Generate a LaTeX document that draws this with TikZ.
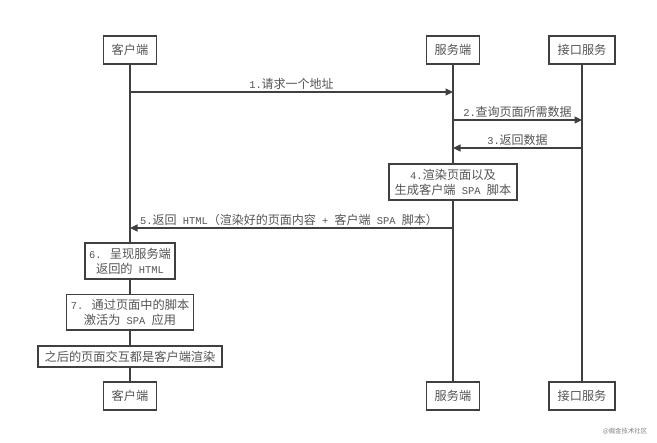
\documentclass[tikz,border=0pt]{standalone}
\usepackage{fontspec}
\setmainfont{Noto Sans CJK SC}
\newfontfamily\ltnfont{Liberation Mono}
\newcommand{\ltn}[1]{{\ltnfont\fontsize{10.4}{14}\selectfont #1}}
\usetikzlibrary{arrows.meta}
\pgfdeclarelayer{behind}
\pgfsetlayers{behind,main}
\definecolor{ln}{HTML}{404040}
\definecolor{tx}{HTML}{555555}
\tikzset{
  x=1pt,y=-1pt,
  actorbox/.style={draw=ln,line width=1.5pt,fill=white,text=tx,minimum height=28pt,inner sep=0pt,anchor=center,font=\fontsize{12.2}{15}\selectfont},
  notebox/.style={draw=ln,line width=1.5pt,fill=white,text=tx,inner sep=0pt,anchor=center,align=center,font=\fontsize{12.2}{15}\selectfont},
  lifeline/.style={draw=ln,line width=1.5pt},
  msg/.style={draw=ln,line width=1.2pt,-{Triangle[length=7.5pt,width=7pt]}},
  msglabel/.style={text=tx,inner sep=0pt,font=\fontsize{12}{14}\selectfont}
}
\begin{document}
\begin{tikzpicture}
\useasboundingbox (0,0) rectangle (657,443);
% actor boxes
\node[actorbox,minimum width=53pt] (c1) at (130,50) {客户端};
\node[actorbox,minimum width=53pt] (s1) at (453,50) {服务端};
\node[actorbox,minimum width=66pt] (a1) at (582,50) {接口服务};
\node[actorbox,minimum width=53pt] (c2) at (130,396) {客户端};
\node[actorbox,minimum width=53pt] (s2) at (453,396) {服务端};
\node[actorbox,minimum width=66pt] (a2) at (582,396) {接口服务};
% page background and lifelines, behind every box
\begin{pgfonlayer}{behind}
\fill[white] (0,0) rectangle (657,443);
\draw[lifeline] (c1) -- (c2);
\draw[lifeline] (s1) -- (s2);
\draw[lifeline] (a1) -- (a2);
\end{pgfonlayer}
% message anchors
\coordinate (m1a) at (130,92);
\coordinate (m1b) at (453,92);
\coordinate (m2a) at (453,120);
\coordinate (m2b) at (582,120);
\coordinate (m3a) at (582,148);
\coordinate (m3b) at (453,148);
\coordinate (m5a) at (453,228);
\coordinate (m5b) at (130,228);
\draw[msg] (m1a) -- (m1b);
\draw[msg] (m2a) -- (m2b);
\draw[msg] (m3a) -- (m3b);
\draw[msg] (m5a) -- (m5b);
\node[msglabel,anchor=center] (l1) at (291.5,84) {\ltn{1.}请求一个地址};
\node[msglabel,anchor=center] (l2) at (517.5,112) {\ltn{2.}查询页面所需数据};
\node[msglabel,anchor=center] (l3) at (517.5,140) {\ltn{3.}返回数据};
\node[msglabel,anchor=west] (l5) at (140,219.5) {\ltn{5.}返回\ltn{ HTML}（渲染好的页面内容\ltn{ + }客户端\ltn{ SPA }脚本）};
% notes
\node[notebox,minimum width=128pt,minimum height=36pt] (n4) at (453,182) {\ltn{4.}渲染页面以及\\生成客户端\ltn{ SPA }脚本};
\node[notebox,minimum width=90pt,minimum height=36pt] (n6) at (130,261) {\ltn{6. }呈现服务端\\返回的\ltn{ HTML}};
\node[notebox,minimum width=127pt,minimum height=35.5pt] (n7) at (130,312.5) {\ltn{7. }通过页面中的脚本\\激活为\ltn{ SPA }应用};
\node[notebox,minimum width=184pt,minimum height=21pt] (n8) at (130,356.5) {之后的页面交互都是客户端渲染};
% watermark
\node[text=gray,inner sep=0pt,font=\fontsize{6.4}{8}\selectfont] (wm) at (625,431) {@掘金技术社区};
\end{tikzpicture}
\end{document}
